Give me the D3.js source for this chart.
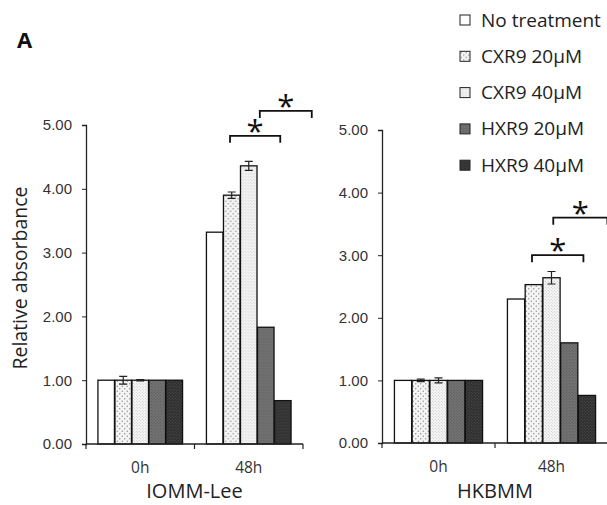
<!DOCTYPE html>
<html lang="en">
<head>
<meta charset="UTF-8">
<title>Relative absorbance</title>
<script src="https://d3js.org/d3.v7.min.js"></script>
<style>
    body { margin: 0; background: #fff; }
    svg { display: block; font-family: "Open Sans", sans-serif; }
    .tick text { fill: #333; font-size: 15px; }
</style>
</head>
<body>
<svg id="canvas" width="607" height="505"></svg>
<script>
    // data
    let times = ["0h", "48h"];
    let series = ["No treatment", "CXR9 20\u00b5M", "CXR9 40\u00b5M", "HXR9 20\u00b5M", "HXR9 40\u00b5M"];
    let yTicks = [0, 1, 2, 3, 4, 5];

    let iommMean = [[1.00, 1.00, 1.00, 1.00, 1.00], [3.32, 3.90, 4.36, 1.83, 0.68]];
    let iommErr  = [[0.00, 0.06, 0.01, 0.00, 0.00], [0.00, 0.05, 0.07, 0.00, 0.00]];
    let hkbMean  = [[1.00, 1.00, 1.00, 1.00, 1.00], [2.30, 2.53, 2.64, 1.60, 0.76]];
    let hkbErr   = [[0.00, 0.02, 0.04, 0.00, 0.00], [0.00, 0.00, 0.10, 0.00, 0.00]];

    // significance brackets: [from series pos, to series pos, height]
    let iommSig = [[0.9, 3.85, 4.83], [2.65, 5.7, 5.22]];
    let hkbSig  = [[0.9, 3.8, 3.0], [2.1, 5.15, 3.6]];

    let svg = d3.select("#canvas");
    let defs = svg.append("defs");

    function dotPattern(id, bg, dot, size, r) {
        let p = defs.append("pattern").attr("id", id)
            .attr("patternUnits", "userSpaceOnUse").attr("width", size).attr("height", size);
        p.append("rect").attr("width", size).attr("height", size).attr("fill", bg);
        p.append("circle").attr("cx", size * 0.25).attr("cy", size * 0.25).attr("r", r).attr("fill", dot);
        p.append("circle").attr("cx", size * 0.75).attr("cy", size * 0.75).attr("r", r).attr("fill", dot);
    }
    dotPattern("p1", "#f4f4f4", "#8a8a8a", 5, 0.7);
    dotPattern("p2", "#f8f8f8", "#b5b5b5", 3, 0.5);
    dotPattern("p3", "#737373", "#555", 3, 0.6);
    dotPattern("p4", "#2e2e2e", "#555", 3, 0.6);
    let fills = ["#ffffff", "url(#p1)", "url(#p2)", "url(#p3)", "url(#p4)"];

    function panel(opt) {
        let g = svg.append("g");
        let x0 = d3.scaleBand().domain(times).range(opt.xr);
        let bw = x0.bandwidth();
        let x1 = d3.scaleBand().domain(d3.range(series.length))
            .range([bw * 0.11, bw * 0.89]).paddingInner(0.03);
        let pos = d3.scaleLinear().domain([0, series.length - 1])
            .range([x1(0) + x1.bandwidth() / 2, x1(series.length - 1) + x1.bandwidth() / 2]);
        let y = d3.scaleLinear().domain([0, 5]).range(opt.yr);

        // bars
        times.forEach(function (t, ti) {
            let grp = g.append("g").attr("transform", "translate(" + x0(t) + ",0)");
            grp.selectAll("rect").data(opt.mean[ti]).enter().append("rect")
                .attr("x", function (d, i) { return x1(i); })
                .attr("y", function (d) { return y(d); })
                .attr("width", x1.bandwidth())
                .attr("height", function (d) { return y(0) - y(d); })
                .attr("fill", function (d, i) { return fills[i]; })
                .attr("stroke", "#111").attr("stroke-width", 1.3);
            opt.err[ti].forEach(function (e, i) {
                if (e <= 0) return;
                let cx = x1(i) + x1.bandwidth() / 2, m = opt.mean[ti][i];
                grp.append("path")
                    .attr("d", "M" + (cx - 4) + "," + y(m + e) + "H" + (cx + 4) +
                        "M" + cx + "," + y(m + e) + "V" + y(m - e) +
                        "M" + (cx - 4) + "," + y(m - e) + "H" + (cx + 4))
                    .attr("stroke", "#222").attr("stroke-width", 1.2).attr("fill", "none");
            });
        });

        // y axis
        g.append("g").attr("transform", "translate(" + opt.xr[0] + ",0)")
            .call(d3.axisLeft(y).tickValues(yTicks).tickFormat(d3.format(".2f")).tickSize(4).tickPadding(10))
            .call(function (a) { a.select(".domain").attr("stroke", "#222").attr("stroke-width", 1.3); })
            .call(function (a) { a.selectAll(".tick line").attr("stroke", "#222"); });

        // x axis with ticks at band edges
        let xa = g.append("g");
        xa.append("line").attr("x1", opt.xr[0]).attr("x2", opt.xr[1])
            .attr("y1", y(0)).attr("y2", y(0)).attr("stroke", "#222").attr("stroke-width", 1.3);
        xa.selectAll("line.tk").data([opt.xr[0], x0("48h"), opt.xr[1]]).enter().append("line")
            .attr("class", "tk").attr("x1", function (d) { return d; }).attr("x2", function (d) { return d; })
            .attr("y1", y(0)).attr("y2", y(0) + 5).attr("stroke", "#222").attr("stroke-width", 1.2);
        xa.selectAll("text").data(times).enter().append("text")
            .attr("x", function (d) { return x0(d) + bw / 2; })
            .attr("y", y(0) + 29).attr("text-anchor", "middle")
            .attr("font-size", 15.5).attr("fill", "#333").text(function (d) { return d; });

        g.append("text").attr("x", x0("0h") + bw).attr("y", 498).attr("text-anchor", "middle")
            .attr("font-size", 20).attr("fill", "#222").text(opt.title);

        // significance brackets
        let gx = x0("48h");
        opt.sig.forEach(function (s) {
            let xa0 = gx + pos(s[0]), xb = gx + pos(s[1]), yy = y(s[2]);
            g.append("path").attr("d", "M" + xa0 + "," + (yy + 7) + "V" + yy + "H" + xb + "V" + (yy + 7))
                .attr("stroke", "#111").attr("stroke-width", 1.8).attr("fill", "none");
            g.append("text").attr("x", (xa0 + xb) / 2).attr("y", yy + 6).attr("text-anchor", "middle")
                .attr("font-size", 31).attr("fill", "#111").text("*");
        });
    }

    panel({ xr: [86, 303], yr: [444, 125], mean: iommMean, err: iommErr, sig: iommSig, title: "IOMM-Lee" });
    panel({ xr: [382, 608], yr: [443, 130], mean: hkbMean, err: hkbErr, sig: hkbSig, title: "HKBMM" });

    // y label
    svg.append("text").attr("transform", "translate(27,278) rotate(-90)")
        .attr("text-anchor", "middle").attr("font-size", 19.5).attr("fill", "#222")
        .text("Relative absorbance");

    // panel letter
    svg.append("text").attr("x", 17).attr("y", 48).attr("font-size", 22)
        .attr("font-weight", "bold").attr("fill", "#111").text("A");

    // legend
    let lg = svg.append("g").attr("transform", "translate(460,0)");
    let rows = lg.selectAll("g").data(series).enter().append("g")
        .attr("transform", function (d, i) { return "translate(0," + (20 + i * 36.3) + ")"; });
    rows.append("rect").attr("x", 0).attr("y", -5).attr("width", 10).attr("height", 10)
        .attr("fill", function (d, i) { return fills[i]; }).attr("stroke", "#222").attr("stroke-width", 1);
    rows.append("text").attr("x", 21).attr("y", 6.5).attr("font-size", 19).attr("fill", "#222")
        .text(function (d) { return d; });
</script>
</body>
</html>
